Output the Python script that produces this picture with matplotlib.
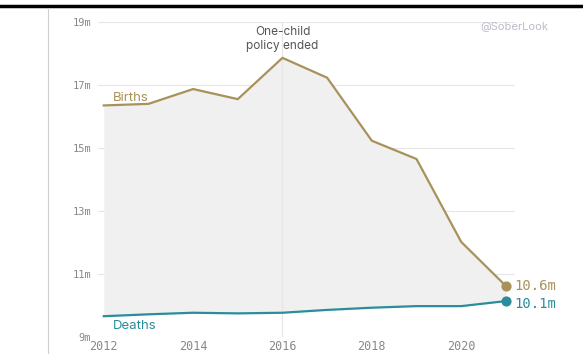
import matplotlib
matplotlib.use("Agg")
import matplotlib.pyplot as plt
from matplotlib.lines import Line2D

# DATA (millions)
years = [2012, 2013, 2014, 2015, 2016, 2017, 2018, 2019, 2020, 2021]
births = [16.35, 16.40, 16.87, 16.55, 17.86, 17.23, 15.23, 14.65, 12.02, 10.62]
deaths = [9.66, 9.72, 9.77, 9.75, 9.77, 9.86, 9.93, 9.98, 9.98, 10.14]
y_ticks = [9, 11, 13, 15, 17, 19]
x_ticks = [2012, 2014, 2016, 2018, 2020]

gold = "#a8925a"
teal = "#2b8d9b"
mono = "DejaVu Sans Mono"
sans = ["Inter", "DejaVu Sans"]

fig = plt.figure(figsize=(5.83, 3.54), dpi=100)
ax = fig.add_axes([0.168, 0.048, 0.715, 0.89])

ax.fill_between(years, deaths, births, color="#f0f0f0", lw=0, zorder=1)
ax.plot(years, births, color=gold, lw=1.6, zorder=3)
ax.plot(years, deaths, color=teal, lw=1.6, zorder=3)
ax.scatter([years[-1]], [births[-1]], s=40, color=gold, zorder=4)
ax.scatter([years[-1]], [deaths[-1]], s=40, color=teal, zorder=4)

for t in y_ticks:
    ax.axhline(t, color="#e6e6e6", lw=0.8, zorder=0)
ax.axvline(2016, color="#e6e6e6", lw=0.8, zorder=2)

ax.set_xlim(2011.87, 2021.2)
ax.set_ylim(9, 19)
ax.set_yticks(y_ticks)
ax.set_yticklabels([f"{t}m" for t in y_ticks], fontfamily=mono, fontsize=7.5, color="#888888")
ax.set_xticks(x_ticks)
ax.set_xticklabels([str(t) for t in x_ticks], fontfamily=mono, fontsize=8.5, color="#888888")
ax.tick_params(length=0, axis="y", pad=5)
ax.tick_params(length=0, axis="x", pad=2)
for s in ax.spines.values():
    s.set_visible(False)

ax.text(2012.2, 16.6, "Births", color=gold, fontsize=9.5, family=sans, va="center")
ax.text(2012.2, 9.35, "Deaths", color=teal, fontsize=9.5, family=sans, va="center")
ax.text(2016, 18.05, "One-child\npolicy ended", color="#555555", fontsize=8.5,
        family=sans, ha="center", va="bottom", linespacing=1.25)
ax.text(years[-1] + 0.2, births[-1], f"{births[-1]:.1f}m", color=gold, fontsize=10,
        fontfamily=mono, va="center")
ax.text(years[-1] + 0.2, deaths[-1] - 0.1, f"{deaths[-1]:.1f}m", color=teal, fontsize=10,
        fontfamily=mono, va="center")
ax.text(1.08, 18.85, "@SoberLook", transform=ax.get_yaxis_transform(), color="#bcbccc",
        fontsize=8, family=sans, ha="right", va="center")

# screenshot framing
fig.add_artist(Line2D([0, 1], [0.982, 0.982], color="black", lw=2.5))
fig.add_artist(Line2D([0.083, 0.083], [0, 0.978], color="#d0d0d0", lw=0.8))

fig.savefig("out.png", dpi=100)
